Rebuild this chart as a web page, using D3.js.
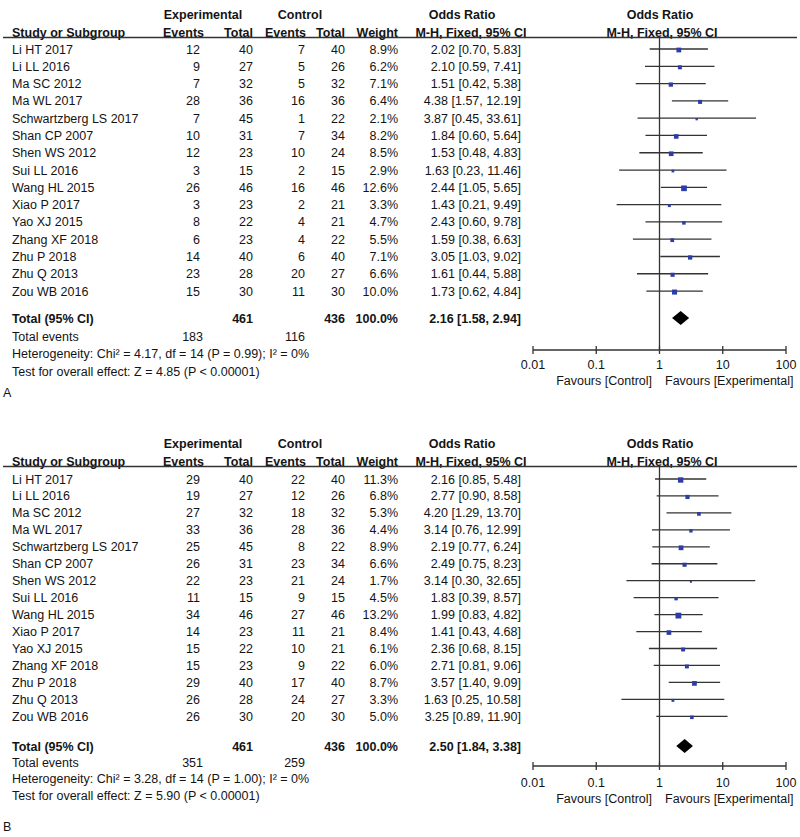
<!DOCTYPE html>
<html>
<head>
<meta charset="utf-8">
<script src="https://cdn.jsdelivr.net/npm/d3@7"></script>
<style>
html,body{margin:0;padding:0;background:#fff;}
svg{display:block;font-family:Arial,"Liberation Sans",Helvetica,sans-serif;}
</style>
</head>
<body>
<svg id="chart" width="800" height="837"></svg>
<script>
// ---------- DATA ----------
const studies = ["Li HT 2017","Li LL 2016","Ma SC 2012","Ma WL 2017","Schwartzberg LS 2017","Shan CP 2007","Shen WS 2012","Sui LL 2016","Wang HL 2015","Xiao P 2017","Yao XJ 2015","Zhang XF 2018","Zhu P 2018","Zhu Q 2013","Zou WB 2016"];

const aExpEvents = [12,9,7,28,7,10,12,3,26,3,8,6,14,23,15];
const aExpTotal  = [40,27,32,36,45,31,23,15,46,23,22,23,40,28,30];
const aCtlEvents = [7,5,5,16,1,7,10,2,16,2,4,4,6,20,11];
const aCtlTotal  = [40,26,32,36,22,34,24,15,46,21,21,22,40,27,30];
const aWeight    = [8.9,6.2,7.1,6.4,2.1,8.2,8.5,2.9,12.6,3.3,4.7,5.5,7.1,6.6,10.0];
const aOR        = [2.02,2.10,1.51,4.38,3.87,1.84,1.53,1.63,2.44,1.43,2.43,1.59,3.05,1.61,1.73];
const aLow       = [0.70,0.59,0.42,1.57,0.45,0.60,0.48,0.23,1.05,0.21,0.60,0.38,1.03,0.44,0.62];
const aHigh      = [5.83,7.41,5.38,12.19,33.61,5.64,4.83,11.46,5.65,9.49,9.78,6.63,9.02,5.88,4.84];
const aTotal     = {expTotal:461, ctlTotal:436, weight:"100.0%", or:2.16, lo:1.58, hi:2.94, expEvents:183, ctlEvents:116,
                    het:"Heterogeneity: Chi² = 4.17, df = 14 (P = 0.99); I² = 0%",
                    test:"Test for overall effect: Z = 4.85 (P < 0.00001)"};

const bExpEvents = [29,19,27,33,25,26,22,11,34,14,15,15,29,26,26];
const bExpTotal  = [40,27,32,36,45,31,23,15,46,23,22,23,40,28,30];
const bCtlEvents = [22,12,18,28,8,23,21,9,27,11,10,9,17,24,20];
const bCtlTotal  = [40,26,32,36,22,34,24,15,46,21,21,22,40,27,30];
const bWeight    = [11.3,6.8,5.3,4.4,8.9,6.6,1.7,4.5,13.2,8.4,6.1,6.0,8.7,3.3,5.0];
const bOR        = [2.16,2.77,4.20,3.14,2.19,2.49,3.14,1.83,1.99,1.41,2.36,2.71,3.57,1.63,3.25];
const bLow       = [0.85,0.90,1.29,0.76,0.77,0.75,0.30,0.39,0.83,0.43,0.68,0.81,1.40,0.25,0.89];
const bHigh      = [5.48,8.58,13.70,12.99,6.24,8.23,32.65,8.57,4.82,4.68,8.15,9.06,9.09,10.58,11.90];
const bTotal     = {expTotal:461, ctlTotal:436, weight:"100.0%", or:2.50, lo:1.84, hi:3.38, expEvents:351, ctlEvents:259,
                    het:"Heterogeneity: Chi² = 3.28, df = 14 (P = 1.00); I² = 0%",
                    test:"Test for overall effect: Z = 5.90 (P < 0.00001)"};

const axisTicks = [0.01,0.1,1,10,100];
const axisTickLabels = ["0.01","0.1","1","10","100"];

// ---------- DRAW ----------
const svg = d3.select("#chart");
const f2 = d3.format(".2f");
const x = d3.scaleLog().domain([0.01,100]).range([533,786]);
const ink = "#141414";
const FS = 12.5;
const base = c => c + 4.5; // text centre -> baseline

function txt(g, s, xx, cy, opts={}) {
  return g.append("text")
    .attr("x", xx).attr("y", base(cy))
    .attr("font-size", FS)
    .attr("fill", ink)
    .attr("text-anchor", opts.anchor || "start")
    .attr("font-weight", opts.bold ? "bold" : "normal")
    .text(s);
}

function panel(L, d, tot, label) {
  const g = svg.append("g").attr("transform", `translate(0,${L.oy})`);
  // headers
  txt(g, "Experimental", 203, 14, {anchor:"middle", bold:true});
  txt(g, "Control", 300, 14, {anchor:"middle", bold:true});
  txt(g, "Odds Ratio", 462, 14, {anchor:"middle", bold:true});
  txt(g, "Odds Ratio", 660, 14, {anchor:"middle", bold:true});
  txt(g, "Study or Subgroup", 12, 32, {bold:true});
  txt(g, "Events", 204, 32, {anchor:"end", bold:true});
  txt(g, "Total", 253, 32, {anchor:"end", bold:true});
  txt(g, "Events", 306, 32, {anchor:"end", bold:true});
  txt(g, "Total", 345, 32, {anchor:"end", bold:true});
  txt(g, "Weight", 398, 32, {anchor:"end", bold:true});
  txt(g, "M-H, Fixed, 95% CI", 471, 32, {anchor:"middle", bold:true});
  txt(g, "M-H, Fixed, 95% CI", 662, 32, {anchor:"middle", bold:true});
  g.append("line").attr("x1",3).attr("x2",797).attr("y1",37.5).attr("y2",37.5)
    .attr("stroke","#333").attr("stroke-width",1.3);

  // vertical line of no effect
  g.append("line").attr("x1",x(1)).attr("x2",x(1)).attr("y1",37.5).attr("y2",L.axisY)
    .attr("stroke","#333").attr("stroke-width",1.3);

  d.studies.forEach((s,i) => {
    const cy = L.y0 + i*L.step;
    txt(g, s, 12, cy);
    txt(g, d.ee[i], 200, cy, {anchor:"end"});
    txt(g, d.et[i], 253, cy, {anchor:"end"});
    txt(g, d.ce[i], 305, cy, {anchor:"end"});
    txt(g, d.ct[i], 345, cy, {anchor:"end"});
    txt(g, d.w[i].toFixed(1) + "%", 398, cy, {anchor:"end"});
    txt(g, `${f2(d.or[i])} [${f2(d.lo[i])}, ${f2(d.hi[i])}]`, 521, cy, {anchor:"end"});
    g.append("line").attr("x1", x(d.lo[i])).attr("x2", x(d.hi[i]))
      .attr("y1", cy).attr("y2", cy).attr("stroke","#333").attr("stroke-width",1.3);
    const sz = 1.6*Math.sqrt(d.w[i]);
    g.append("rect").attr("x", x(d.or[i]) - sz/2).attr("y", cy - sz/2 + 1)
      .attr("width", sz).attr("height", sz).attr("fill", "#2d3ca6");
  });

  // totals
  const ty = L.totY;
  txt(g, "Total (95% CI)", 12, ty, {bold:true});
  txt(g, tot.expTotal, 253, ty, {anchor:"end", bold:true});
  txt(g, tot.ctlTotal, 345, ty, {anchor:"end", bold:true});
  txt(g, tot.weight, 398, ty, {anchor:"end", bold:true});
  txt(g, `${f2(tot.or)} [${f2(tot.lo)}, ${f2(tot.hi)}]`, 521, ty, {anchor:"end", bold:true});
  const dh = 7;
  g.append("path")
    .attr("d", `M${x(tot.lo)},${ty}L${x(tot.or)},${ty-dh}L${x(tot.hi)},${ty}L${x(tot.or)},${ty+dh}Z`)
    .attr("fill", "#000");
  txt(g, "Total events", 12, L.evY);
  txt(g, tot.expEvents, 203, L.evY, {anchor:"end"});
  txt(g, tot.ctlEvents, 305, L.evY, {anchor:"end"});
  txt(g, tot.het, 12, L.hetY);
  txt(g, tot.test, 12, L.testY);
  txt(g, label, 3, L.labY);

  // axis
  const ax = g.append("g").attr("transform", `translate(0,${L.axisY})`);
  ax.append("line").attr("x1", x.range()[0]).attr("x2", x.range()[1])
    .attr("stroke","#333").attr("stroke-width",1.3);
  ax.selectAll("line.tk").data(axisTicks).join("line").attr("class","tk")
    .attr("x1", t => x(t)).attr("x2", t => x(t)).attr("y1",-4).attr("y2",4)
    .attr("stroke","#333").attr("stroke-width",1.3);
  ax.selectAll("text.tl").data(axisTicks).join("text").attr("class","tl")
    .attr("x", t => x(t)).attr("y", base(L.tickDY)).attr("text-anchor","middle")
    .attr("font-size", FS).attr("fill", ink)
    .text((t,i) => axisTickLabels[i]);
  txt(g, "Favours [Control]", 652, L.favY, {anchor:"end"});
  txt(g, "Favours [Experimental]", 665, L.favY);
}

panel({oy:0, y0:49, step:17.29, totY:318, evY:336, hetY:353, testY:371, labY:392, axisY:350, tickDY:14, favY:380},
      {studies, ee:aExpEvents, et:aExpTotal, ce:aCtlEvents, ct:aCtlTotal, w:aWeight, or:aOR, lo:aLow, hi:aHigh}, aTotal, "A");
panel({oy:429, y0:50, step:16.95, totY:317, evY:333, hetY:349, testY:366, labY:397, axisY:337, tickDY:16, favY:369},
      {studies, ee:bExpEvents, et:bExpTotal, ce:bCtlEvents, ct:bCtlTotal, w:bWeight, or:bOR, lo:bLow, hi:bHigh}, bTotal, "B");
</script>
</body>
</html>
